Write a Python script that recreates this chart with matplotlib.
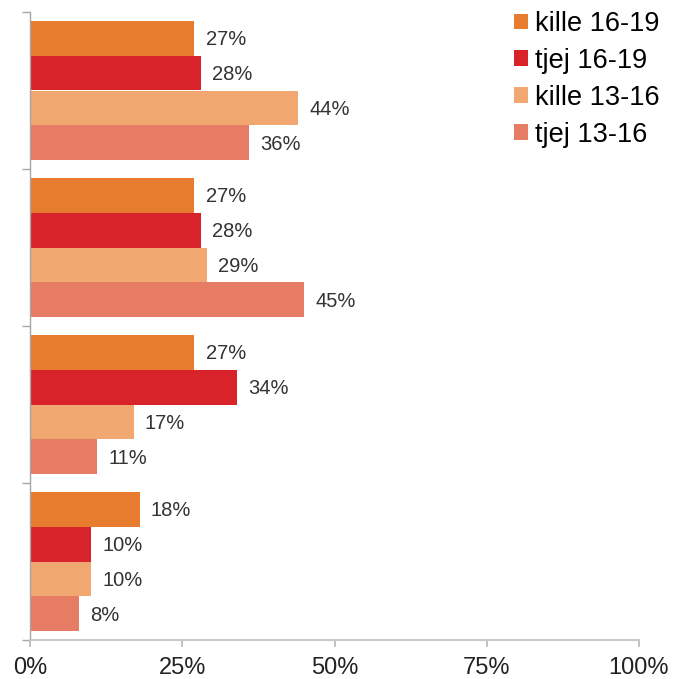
import matplotlib
matplotlib.use("Agg")
import matplotlib.pyplot as plt
from matplotlib.patches import Patch
import numpy as np

plt.rcParams['font.family'] = ['Liberation Sans', 'DejaVu Sans']

series = ["kille 16-19", "tjej 16-19", "kille 13-16", "tjej 13-16"]
colors = ["#E77B2E", "#D9232B", "#F0A870", "#E77C64"]
# values per group (top to bottom), per series
kille_16_19 = [27, 27, 27, 18]
tjej_16_19 = [28, 28, 34, 10]
kille_13_16 = [44, 29, 17, 10]
tjej_13_16 = [36, 45, 11, 8]
values = [kille_16_19, tjej_16_19, kille_13_16, tjej_13_16]
xticks = [0, 25, 50, 75, 100]
xticklabels = ["0%", "25%", "50%", "75%", "100%"]

W, H = 677, 679
fig = plt.figure(figsize=(W / 100, H / 100), dpi=100)
ax = fig.add_axes([30 / W, 39 / H, 609 / W, 628 / H])

ngroups = len(kille_16_19)
bar_h = 0.222
centers = np.arange(ngroups)
for s, (name, col, vals) in enumerate(zip(series, colors, values)):
    y = centers + (s - 1.5) * bar_h
    ax.barh(y, vals, height=bar_h, color=col, edgecolor='none', label=name)
    for yy, v in zip(y, vals):
        ax.annotate(f"{v}%", xy=(v, yy), xytext=(8, -1), textcoords='offset points',
                    va='center', ha='left', fontsize=14.5, color='#333333')

ax.set_ylim(ngroups - 0.5, -0.5)
ax.set_xlim(0, 100)
ax.set_yticks(np.arange(-0.5, ngroups, 1.0))
ax.set_yticklabels([])
ax.set_xticks(xticks)
ax.set_xticklabels(xticklabels, fontsize=17, color='#222222')

for sp in ['top', 'right']:
    ax.spines[sp].set_visible(False)
ax.spines['left'].set_color('#A6A6A6')
ax.spines['bottom'].set_color('#C8C8C8')
ax.spines['left'].set_linewidth(1.0)
ax.spines['bottom'].set_linewidth(1.5)
ax.tick_params(axis='y', length=6, color='#A6A6A6', width=1.0)
ax.tick_params(axis='x', length=5, color='#B8B8B8', width=1.2, pad=7)

handles = [Patch(facecolor=c, edgecolor='none') for c in colors]
fig.legend(handles, series, loc='upper left', bbox_to_anchor=(514 / W, 1 - 11 / H),
           frameon=False, fontsize=19.5, handlelength=0.52, handleheight=0.52,
           handletextpad=0.25, labelspacing=0.4, borderpad=0, borderaxespad=0)

fig.savefig("out.png", dpi=100)
